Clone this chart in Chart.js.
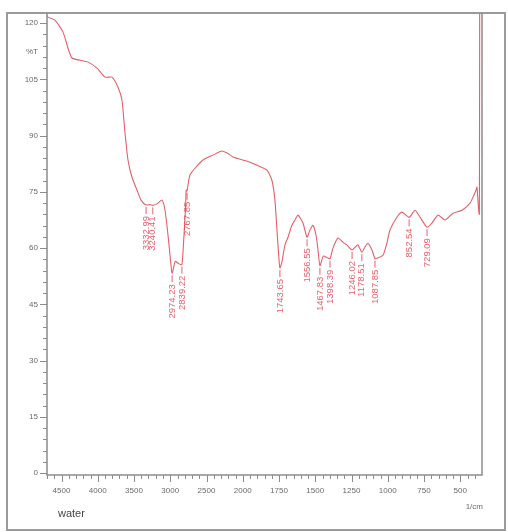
<!DOCTYPE html>
<html>
<head>
<meta charset="utf-8">
<title>water</title>
<script src="https://cdn.jsdelivr.net/npm/chart.js@4.4.1/dist/chart.umd.min.js"></script>
<style>
  body { margin: 0; background: #fff; }
  canvas { display: block; }
</style>
</head>
<body>
<canvas id="spectrum" width="508" height="532"></canvas>
<script>
// wavenumber (1/cm), high to low
const wavenumbers = [
  4700, 4686, 4590, 4479, 4410, 4355, 4245, 4134, 4010, 3900, 3803, 3721, 3666, 3624, 3583,
  3528, 3459, 3403, 3332.99, 3279, 3240.41, 3183, 3114, 3072, 3031, 3003, 2974.23, 2930,
  2880, 2839.22, 2815, 2790, 2780, 2767.85, 2750, 2728, 2659, 2548, 2410, 2286, 2200, 2134,
  2000, 1950, 1902, 1833, 1799, 1778, 1764, 1752, 1743.65, 1730, 1709, 1688, 1661, 1640,
  1619, 1585, 1556.55, 1537, 1516, 1495, 1481, 1467.83, 1445, 1420, 1398.39, 1378, 1343,
  1309, 1281, 1246.02, 1219, 1206, 1178.51, 1157, 1137, 1109, 1087.85, 1068, 1033, 1006,
  985, 936, 902, 852.54, 812, 778, 729.09, 695, 653, 605, 550, 488, 433, 412, 391, 385,
  378, 371, 368, 366
];

// %T at each wavenumber above
const transmittance = [
  122.0, 121.6, 120.8, 117.6, 113.3, 110.7, 110.1, 109.6, 108.0, 105.6, 105.6, 102.9, 99.5, 90.7, 83.5,
  78.9, 75.5, 72.8, 71.5, 71.6, 71.4, 71.8, 72.8, 70.1, 63.5, 58.1, 53.3, 56.5,
  55.8, 55.6, 62.0, 70.5, 75.5, 75.3, 77.5, 79.5, 81.3, 83.5, 84.8, 85.9, 85.2, 84.3,
  83.5, 82.9, 82.1, 80.8, 78.1, 72.8, 64.8, 58.0, 54.7, 56.3, 60.8, 62.9, 66.1, 67.5,
  68.8, 66.7, 62.9, 64.8, 66.1, 63.5, 59.5, 55.3, 57.9, 57.5, 57.2, 60.0, 62.7,
  61.6, 60.8, 59.5, 60.5, 60.9, 58.9, 60.3, 61.3, 59.5, 57.2, 57.4, 58.1, 61.3,
  64.8, 68.3, 69.6, 68.2, 70.1, 68.3, 65.6, 66.7, 68.8, 67.5, 69.3, 70.1, 72.0, 73.6, 75.5, 76.3,
  72.8, 69.3, 69.0, 125.0
];

// picked peaks, labelled under the trace
const peakWavenumbers = [
  3332.99, 3240.41, 2974.23, 2839.22, 2767.85, 1743.65, 1556.55, 1467.83, 1398.39,
  1246.02, 1178.51, 1087.85, 852.54, 729.09
];

const xTickValues = [4500, 4000, 3500, 3000, 2500, 2000, 1750, 1500, 1250, 1000, 750, 500];
const yTickValues = [0, 15, 30, 45, 60, 75, 90, 105, 120];

const sampleName = "water";
const xUnit = "1/cm";
const yUnit = "%T";

const traceColor = "rgb(228,96,104)";
const axisColor = "#8c8c8c";
const textColor = "#6a6a6a";

// wavenumber axis with the spacing doubled below 2000 1/cm
const BREAK_AT = 2000;
const STRETCH = 2;

class BrokenLinearScale extends Chart.LinearScale {
  static id = "brokenLinear";

  fold(v) {
    return v >= BREAK_AT ? v - BREAK_AT : (v - BREAK_AT) * STRETCH;
  }

  unfold(f) {
    return f >= 0 ? f + BREAK_AT : f / STRETCH + BREAK_AT;
  }

  getPixelForValue(value) {
    if (value === null || value === undefined) return NaN;
    const lo = this.fold(this.min);
    const hi = this.fold(this.max);
    return this.getPixelForDecimal((this.fold(value) - lo) / (hi - lo));
  }

  getValueForPixel(pixel) {
    const lo = this.fold(this.min);
    const hi = this.fold(this.max);
    return this.unfold(lo + this.getDecimalForPixel(pixel) * (hi - lo));
  }
}
Chart.register(BrokenLinearScale);

const points = wavenumbers.map((w, i) => ({ x: w, y: transmittance[i] }));

const frame = {
  id: "frame",
  afterDraw(chart) {
    const ctx = chart.ctx;
    const area = chart.chartArea;
    const xs = chart.scales.x;
    const ys = chart.scales.y;

    ctx.save();

    // outer border
    ctx.strokeStyle = "#9a9a9a";
    ctx.lineWidth = 2;
    ctx.strokeRect(7, 13, 498, 517);

    // plot box
    ctx.strokeStyle = axisColor;
    ctx.lineWidth = 1.5;
    ctx.beginPath();
    ctx.moveTo(area.left, area.top);
    ctx.lineTo(area.left, area.bottom);
    ctx.lineTo(area.right, area.bottom);
    ctx.lineTo(area.right, area.top);
    ctx.stroke();

    // y ticks, minor every 3
    ctx.lineWidth = 1;
    ctx.beginPath();
    for (let v = 0; v <= 120; v += 3) {
      const py = Math.round(ys.getPixelForValue(v)) + 0.5;
      const len = v % 15 === 0 ? 7 : 4;
      ctx.moveTo(area.left - len, py);
      ctx.lineTo(area.left, py);
    }
    // x ticks, minor every 100 above the break and every 50 below
    for (let v = 4700; v >= 400; v -= (v > BREAK_AT ? 100 : 50)) {
      const px = Math.round(xs.getPixelForValue(v)) + 0.5;
      const len = xTickValues.includes(v) ? 7 : 4;
      ctx.moveTo(px, area.bottom);
      ctx.lineTo(px, area.bottom + len);
    }
    ctx.stroke();

    // unit and sample labels
    ctx.fillStyle = textColor;
    ctx.font = "8px 'Liberation Sans', Arial, sans-serif";
    ctx.textAlign = "right";
    ctx.textBaseline = "middle";
    ctx.fillText(yUnit, 38, 52);
    ctx.fillText(xUnit, 483, 507);

    ctx.fillStyle = "#444";
    ctx.font = "11px 'Liberation Sans', Arial, sans-serif";
    ctx.textAlign = "left";
    ctx.fillText(sampleName, 58, 514);

    // peak labels, read bottom to top under each dip
    ctx.fillStyle = "rgba(224,70,82,0.85)";
    ctx.strokeStyle = "rgba(224,70,82,0.85)";
    ctx.font = "9.5px 'Liberation Sans', Arial, sans-serif";
    peakWavenumbers.forEach(w => {
      const i = wavenumbers.indexOf(w);
      if (i < 0) return;
      const px = xs.getPixelForValue(w);
      const py = ys.getPixelForValue(transmittance[i]);
      ctx.beginPath();
      ctx.moveTo(px, py + 2);
      ctx.lineTo(px, py + 9);
      ctx.stroke();
      ctx.save();
      ctx.translate(px, py + 11);
      ctx.rotate(-Math.PI / 2);
      ctx.textAlign = "right";
      ctx.textBaseline = "middle";
      ctx.fillText(w.toFixed(2), 0, 0);
      ctx.restore();
    });

    ctx.restore();
  }
};

new Chart(document.getElementById("spectrum"), {
  type: "line",
  data: {
    datasets: [{
      data: points,
      borderColor: traceColor,
      borderWidth: 1.1,
      pointRadius: 0,
      fill: false,
      tension: 0.2
    }]
  },
  options: {
    responsive: false,
    animation: false,
    layout: {
      padding: { top: 13, right: 26, left: 0, bottom: 0 }
    },
    plugins: {
      legend: { display: false },
      tooltip: { enabled: false }
    },
    scales: {
      x: {
        type: "brokenLinear",
        reverse: true,
        min: 350,
        max: 4700,
        grid: { display: false },
        border: { display: false },
        afterBuildTicks(scale) {
          scale.ticks = xTickValues.map(v => ({ value: v }));
        },
        afterFit(scale) {
          scale.height = 57;
        },
        ticks: {
          padding: 3,
          color: textColor,
          maxRotation: 0,
          autoSkip: false,
          font: { family: "'Liberation Sans', Arial, sans-serif", size: 8 },
          callback: v => String(v)
        }
      },
      y: {
        min: -0.5,
        max: 122.7,
        grid: { display: false },
        border: { display: false },
        afterBuildTicks(scale) {
          scale.ticks = yTickValues.map(v => ({ value: v }));
        },
        afterFit(scale) {
          scale.width = 47;
        },
        ticks: {
          padding: 1,
          color: textColor,
          font: { family: "'Liberation Sans', Arial, sans-serif", size: 8 },
          callback: v => String(v)
        }
      }
    }
  },
  plugins: [frame]
});
</script>
</body>
</html>
